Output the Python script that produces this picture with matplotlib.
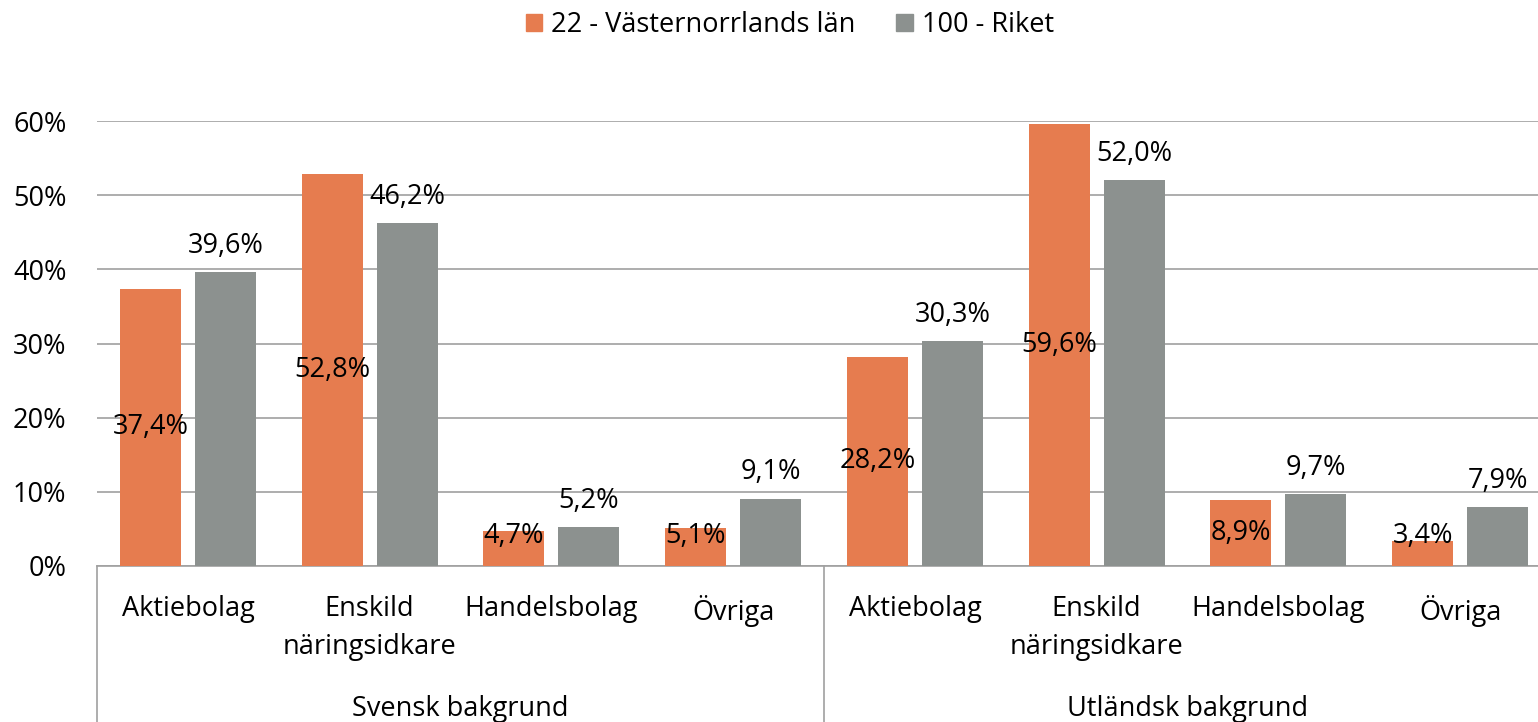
import numpy as np
import matplotlib
matplotlib.use("Agg")
import matplotlib.pyplot as plt
from matplotlib.patches import Patch

plt.rcParams['font.family'] = ['Open Sans', 'DejaVu Sans']

# data
groups = ['Svensk bakgrund', 'Utländsk bakgrund']
categories = ['Aktiebolag', 'Enskild\nnäringsidkare', 'Handelsbolag', 'Övriga']
series_names = ['22 - Västernorrlands län', '100 - Riket']
lan_values = [37.4, 52.8, 4.7, 5.1, 28.2, 59.6, 8.9, 3.4]
riket_values = [39.6, 46.2, 5.2, 9.1, 30.3, 52.0, 9.7, 7.9]
y_ticks = [0, 10, 20, 30, 40, 50, 60]

orange = '#E67C4F'
gray = '#8C918F'
grid_color = '#A0A0A0'
fs = 19.5

fig = plt.figure(figsize=(15.38, 7.22), dpi=100)
# the plot area runs a little past the right edge of the picture
ax = fig.add_axes([97/1538, 156/722, 1454/1538, 445/722])

n = len(lan_values)
x = np.arange(n)
width = 0.336
off = 0.206

ax.bar(x - off, lan_values, width, color=orange, zorder=3)
ax.bar(x + off, riket_values, width, color=gray, zorder=3)

# labels: orange centered in bar, gray above bar
for xi, v in zip(x, lan_values):
    ax.text(xi - off, max(v / 2, 4.0), f"{v:.1f}%".replace('.', ','),
            ha='center', va='center', fontsize=fs, zorder=4)
for xi, v in zip(x, riket_values):
    ax.annotate(f"{v:.1f}%".replace('.', ','), (xi + off, v),
                xytext=(0, 9), textcoords='offset points',
                ha='center', va='bottom', fontsize=fs, zorder=4)

ax.set_xlim(-0.5, n - 0.5)
ax.set_ylim(0, 60)
ax.set_yticks(y_ticks)
ax.set_yticklabels([f"{t}%" for t in y_ticks], fontsize=fs)
ax.yaxis.grid(True, color=grid_color, linewidth=1.2, zorder=0)
ax.tick_params(axis='y', length=0, pad=22)

ax.set_xticks(x)
ax.set_xticklabels(categories * len(groups), fontsize=fs, linespacing=1.45, va='top')
ax.tick_params(axis='x', length=0, pad=21)

for s in ['top', 'right', 'left']:
    ax.spines[s].set_visible(False)
ax.spines['bottom'].set_color(grid_color)
ax.spines['bottom'].set_linewidth(1.2)

# group separators and group labels
ybot = -156 / 445
per = len(categories)
for k in range(len(groups) + 1):
    xs = k * per - 0.5
    ax.plot([xs, xs], [0, ybot], transform=ax.get_xaxis_transform(),
            color=grid_color, linewidth=1.2, clip_on=False)
for k, g in enumerate(groups):
    ax.text(k * per + (per - 1) / 2, -143 / 445, g, transform=ax.get_xaxis_transform(),
            ha='center', va='center', fontsize=fs)

handles = [Patch(color=orange), Patch(color=gray)]
fig.legend(handles, series_names, loc='center', bbox_to_anchor=(790/1538, 1 - 25/722),
           ncol=2, frameon=False, fontsize=fs, handlelength=0.6, handleheight=0.6,
           handletextpad=0.35, columnspacing=1.5)

fig.savefig('out.png', dpi=100)
